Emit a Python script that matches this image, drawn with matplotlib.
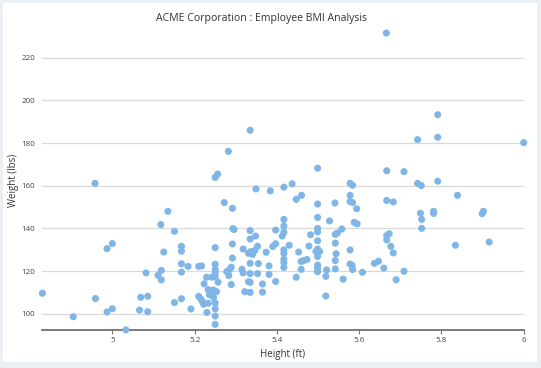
import matplotlib.pyplot as plt
from matplotlib.patches import Rectangle

heights = [
    4.830, 4.905, 4.958, 4.959, 4.987, 5.000, 4.987, 5.000, 5.033, 5.066,
    5.069, 5.082, 5.086, 5.086, 5.118, 5.135, 5.151, 5.125, 5.111, 5.119,
    5.119, 5.151, 5.168, 5.168, 5.168, 5.168, 5.168, 5.184, 5.191, 5.210,
    5.217, 5.210, 5.215, 5.219, 5.222, 5.250, 5.256, 5.272, 5.292, 5.282,
    5.335, 5.349, 5.293, 5.296, 5.335, 5.335, 5.348, 5.292, 5.250, 5.318,
    5.331, 5.336, 5.341, 5.346, 5.353, 5.292, 5.355, 5.335, 5.250, 5.250,
    5.250, 5.250, 5.242, 5.229, 5.278, 5.285, 5.289, 5.283, 5.315, 5.318,
    5.335, 5.353, 5.257, 5.289, 5.331, 5.223, 5.233, 5.240, 5.246, 5.253,
    5.236, 5.246, 5.233, 5.250, 5.250, 5.250, 5.250, 5.230, 5.322, 5.335,
    5.365, 5.365, 5.335, 5.384, 5.417, 5.437, 5.447, 5.460, 5.499, 5.541,
    5.499, 5.417, 5.417, 5.417, 5.413, 5.397, 5.499, 5.499, 5.499, 5.499,
    5.528, 5.482, 5.558, 5.542, 5.547, 5.542, 5.430, 5.397, 5.390, 5.374,
    5.453, 5.478, 5.499, 5.495, 5.504, 5.499, 5.544, 5.459, 5.466, 5.473,
    5.417, 5.417, 5.417, 5.417, 5.417, 5.381, 5.499, 5.499, 5.499, 5.521,
    5.542, 5.542, 5.578, 5.583, 5.584, 5.459, 5.447, 5.519, 5.561, 5.381,
    5.397, 5.519, 5.578, 5.578, 5.584, 5.578, 5.578, 5.584, 5.594, 5.588,
    5.595, 5.608, 5.637, 5.647, 5.660, 5.709, 5.690, 5.667, 5.673, 5.667,
    5.677, 5.683, 5.834, 5.916, 5.667, 5.709, 5.742, 5.751, 5.791, 5.839,
    5.667, 5.683, 5.749, 5.752, 5.752, 5.781, 5.781, 5.902, 5.899, 5.742,
    5.791, 5.791, 6.000, 5.666,
]
weights = [
    109.6, 98.6, 161.1, 107.1, 130.5, 132.9, 100.8, 102.3, 92.4, 101.7,
    107.7, 119.1, 108.2, 100.9, 141.8, 148.0, 138.6, 128.9, 118.0, 120.3,
    115.9, 105.2, 131.6, 129.3, 123.4, 119.5, 107.0, 122.2, 102.2, 122.2,
    122.4, 108.1, 106.9, 105.7, 104.4, 163.9, 165.5, 152.1, 149.4, 176.1,
    186.0, 158.5, 139.9, 139.5, 139.0, 135.0, 136.4, 132.7, 131.0, 130.3,
    128.3, 129.1, 127.8, 129.6, 131.6, 126.1, 123.5, 123.6, 123.2, 120.7,
    119.1, 117.4, 117.1, 117.1, 119.7, 120.7, 121.8, 117.9, 120.8, 119.1,
    118.8, 118.8, 114.8, 113.7, 115.0, 114.0, 111.3, 110.4, 111.1, 110.3,
    108.9, 107.6, 104.9, 105.0, 102.3, 98.9, 95.0, 100.6, 110.3, 110.0,
    113.9, 110.1, 114.7, 157.6, 159.3, 160.9, 153.6, 155.5, 151.4, 151.9,
    168.2, 144.2, 141.1, 138.2, 136.4, 139.2, 145.1, 140.0, 138.4, 134.2,
    143.5, 137.0, 139.7, 137.2, 137.8, 133.1, 132.1, 132.8, 131.5, 128.8,
    128.9, 131.7, 130.3, 129.2, 129.2, 126.8, 128.1, 124.5, 125.0, 125.4,
    129.9, 128.3, 125.5, 124.0, 121.7, 122.4, 122.8, 121.3, 119.7, 120.5,
    124.9, 121.0, 123.3, 122.6, 120.7, 120.8, 117.1, 117.5, 116.2, 118.4,
    115.1, 108.3, 129.9, 161.1, 160.2, 155.5, 152.6, 152.1, 149.2, 142.8,
    142.1, 119.4, 123.6, 124.6, 121.4, 119.9, 115.9, 136.6, 137.5, 134.6,
    131.6, 128.5, 132.1, 133.6, 167.0, 166.6, 161.1, 160.1, 162.1, 155.5,
    153.1, 152.4, 147.1, 144.2, 140.0, 148.0, 147.0, 148.0, 146.9, 181.6,
    182.7, 193.3, 180.2, 231.6,
]

x_ticks = [5, 5.2, 5.4, 5.6, 5.8, 6]
x_tick_labels = ['5', '5.2', '5.4', '5.6', '5.8', '6']
y_ticks = [100, 120, 140, 160, 180, 200, 220]

plt.rcParams['font.family'] = ['Open Sans', 'DejaVu Sans']

fig = plt.figure(figsize=(5.41, 3.68), dpi=100, facecolor='#e9eff3')

# white card behind the chart
card = fig.add_axes([0, 0, 1, 1], zorder=-10)
card.set_xlim(0, 541)
card.set_ylim(0, 368)
card.add_patch(Rectangle((3, 6), 534, 359, facecolor='white', edgecolor='none'))
card.axis('off')

ax = fig.add_axes([42 / 541, 38 / 368, 481.7 / 541, 300 / 368])
ax.set_facecolor('none')

ax.scatter(heights, weights, s=26, color='#80b6e6', edgecolors='none',
           zorder=3, clip_on=False)

ax.set_xlim(4.829, 6.0)
ax.set_ylim(92.36, 233.0)

ax.set_xticks(x_ticks)
ax.set_xticklabels(x_tick_labels)
ax.set_yticks(y_ticks)

# Grid lines (horizontal only)
ax.grid(True, axis='y', color='#d9d9d9', linewidth=0.9)
ax.set_axisbelow(True)

for side in ['top', 'right', 'left']:
    ax.spines[side].set_visible(False)
ax.spines['bottom'].set_color('#707070')
ax.spines['bottom'].set_linewidth(1.3)

ax.tick_params(axis='x', colors='#707070', length=3, width=0.8, pad=2,
               labelsize=5.8, labelcolor='#444444')
ax.tick_params(axis='y', length=0, pad=5, labelsize=5.8, labelcolor='#444444')

ax.set_xlabel('Height (ft)', fontsize=7, color='#333333', labelpad=4)
ax.set_ylabel('Weight (lbs)', fontsize=7, color='#333333', labelpad=2)

fig.text(261 / 541, 1 - 18 / 368, 'ACME Corporation : Employee BMI Analysis',
         ha='center', va='center', fontsize=7.6, color='#333333')

fig.savefig('out.png', dpi=100, facecolor=fig.get_facecolor())
